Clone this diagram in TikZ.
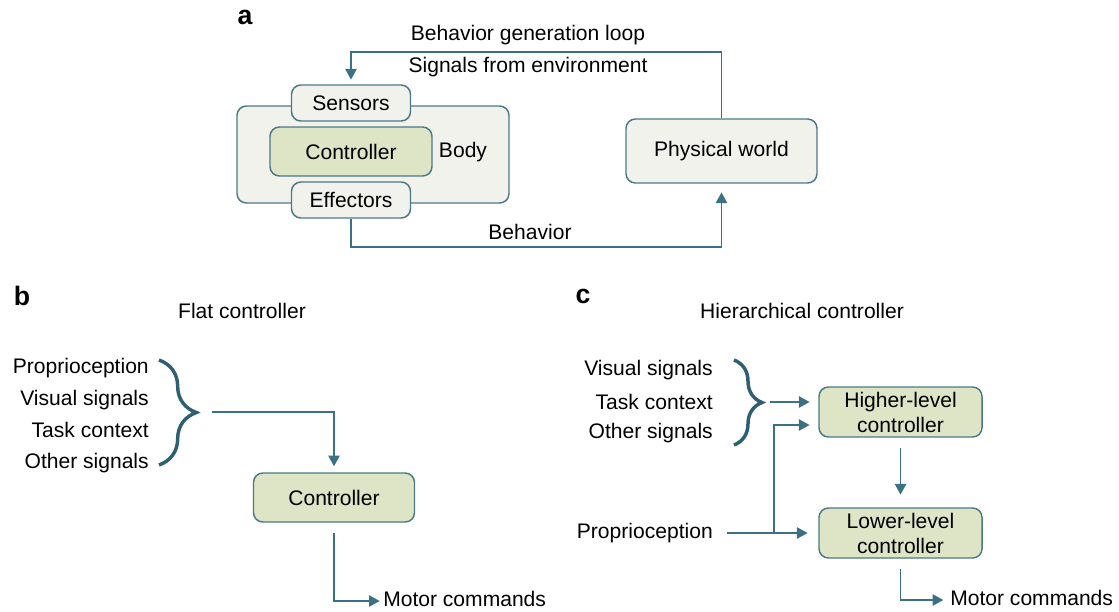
\documentclass[tikz,border=0pt]{standalone}
\usepackage{fontspec}
\setmainfont{Liberation Sans}
\usetikzlibrary{arrows.meta,decorations.pathreplacing}
\definecolor{edgecol}{HTML}{4B7A86}
\definecolor{arrcol}{HTML}{3C7083}
\definecolor{bracecol}{HTML}{2F6072}
\definecolor{grayfill}{HTML}{F2F2ED}
\definecolor{greenfill}{HTML}{DDE5C6}
\tikzstyle{box}=[draw=edgecol,line width=1.1pt,rounded corners=7pt,inner sep=0pt,align=center]
\tikzstyle{graybox}=[box,fill=grayfill]
\tikzstyle{greenbox}=[box,fill=greenfill]
\tikzstyle{txt}=[inner sep=0pt,text height=0.9em,text depth=0.1em]
\tikzstyle{panel}=[inner sep=0pt,font=\fontsize{20}{24}\selectfont\bfseries]
\tikzstyle{arr}=[draw=arrcol,line width=1pt,-{Triangle[length=8pt,width=8.5pt]},arrcol]
\tikzstyle{curly}=[draw=bracecol,line width=2.6pt,decorate]

\begin{document}
\begin{tikzpicture}[x=0.75pt,y=-0.75pt,font=\fontsize{15.8}{18.7}\selectfont]
\useasboundingbox (0,0) rectangle (1119,611);

\node[panel] (la) at (245,17) {a};
\node[graybox,minimum width=272*0.75pt,minimum height=97*0.75pt] (body) at (373,154.5) {};
\node[graybox,minimum width=119*0.75pt,minimum height=36*0.75pt] (sens) at (351,103) {Sensors};
\node[greenbox,minimum width=162*0.75pt,minimum height=49*0.75pt] (ctrla) at (351,151.5) {Controller};
\node[graybox,minimum width=119*0.75pt,minimum height=36*0.75pt] (eff) at (351,200) {Effectors};
\node[txt] (bodylbl) at (463,152) {Body};
\node[graybox,minimum width=191*0.75pt,minimum height=64*0.75pt] (phys) at (721.5,151) {Physical world};
\node[txt] (loop) at (528,35) {Behavior generation loop};
\node[txt] (signals) at (528,67) {Signals from environment};
\node[txt] (behav) at (530,234) {Behavior};
\coordinate (loopL) at (351,52);
\coordinate (behR) at (721.5,247);
\draw[arr,shorten >=3.5pt] (phys.north) |- (loopL) -- (sens.north);
\draw[arr,shorten >=6.5pt] (eff.south) |- (behR) -- (phys.south);

\node[panel] (lb) at (22,296) {b};
\node[txt] (flat) at (242,313) {Flat controller};
\node[txt,anchor=east] (bprop) at (149,368) {Proprioception};
\node[txt,anchor=east] (bvis) at (149,400) {Visual signals};
\node[txt,anchor=east] (btask) at (149,432) {Task context};
\node[txt,anchor=east] (both) at (149,463) {Other signals};
\coordinate (bbtop) at (159,360);
\coordinate (bbbot) at (159,465);
\draw[curly,decoration={brace,amplitude=28pt}] (bbtop) -- (bbbot);
\coordinate (btip) at (212,412);
\node[greenbox,minimum width=161*0.75pt,minimum height=49*0.75pt] (ctrlb) at (334,497.5) {Controller};
\node[txt,anchor=west] (motorb) at (383,601) {Motor commands};
\draw[arr,shorten >=4.5pt] (btip) -| (ctrlb.north);
\draw[arr,shorten <=7.5pt,shorten >=2.5pt] (ctrlb.south) |- (motorb.west);

\node[panel] (lc) at (583,296) {c};
\node[txt] (hier) at (802,313) {Hierarchical controller};
\node[txt,anchor=east] (cvis) at (713,370) {Visual signals};
\node[txt,anchor=east] (ctask) at (713,404) {Task context};
\node[txt,anchor=east] (coth) at (713,433) {Other signals};
\node[txt,anchor=east] (cprop) at (713,533) {Proprioception};
\coordinate (cbtop) at (734,360);
\coordinate (cbbot) at (734,445);
\draw[curly,decoration={brace,amplitude=21pt}] (cbtop) -- (cbbot);
\coordinate (ctip) at (770,402);
\node[greenbox,minimum width=163*0.75pt,minimum height=50*0.75pt] (higher) at (900.5,412) {Higher-level\\controller};
\node[greenbox,minimum width=163*0.75pt,minimum height=50*0.75pt] (lower) at (900.5,533) {Lower-level\\controller};
\node[txt,anchor=west] (motorc) at (950,600) {Motor commands};
\coordinate (pbranch) at (774,533);
\coordinate (pup) at (774,425);
\draw[arr,shorten >=6.5pt] (ctip) -- (ctip -| higher.west);
\draw[arr,shorten >=6.5pt] (pbranch) -- (pup) -- (pup -| higher.west);
\draw[arr,shorten <=10.5pt,shorten >=8pt] (cprop.east) -- (lower.west);
\draw[arr,shorten <=7.5pt,shorten >=9.5pt] (higher.south) -- (lower.north);
\draw[arr,shorten <=7.5pt,shorten >=5pt] (lower.south) |- (motorc.west);
\end{tikzpicture}
\end{document}
